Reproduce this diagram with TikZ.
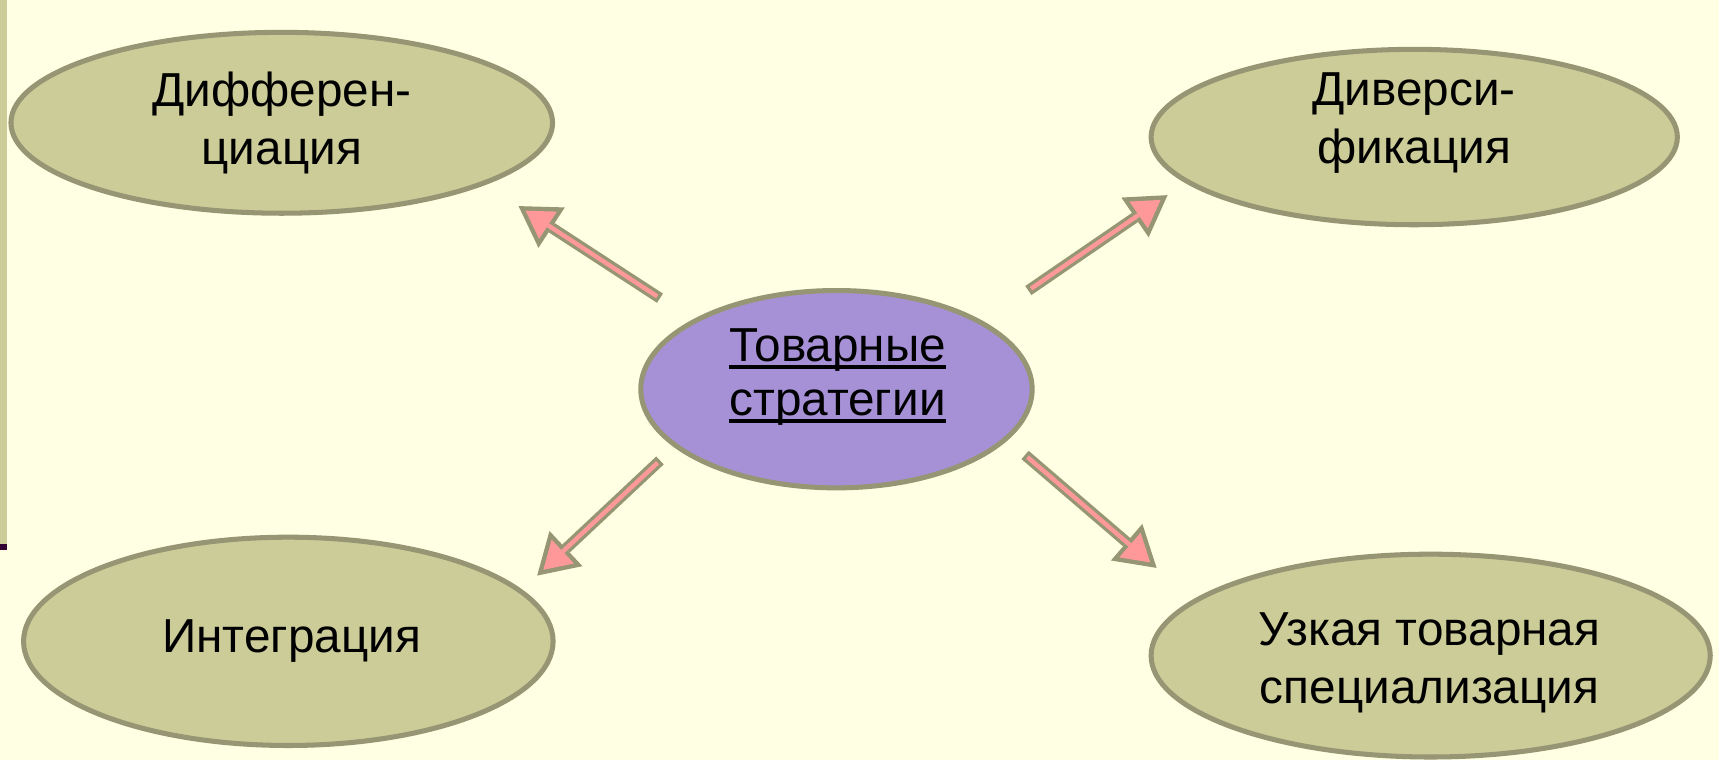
\documentclass[tikz,border=0pt]{standalone}
\usepackage{fontspec}
\setmainfont{Liberation Sans}
\usetikzlibrary{shapes.geometric,arrows.meta}
\definecolor{bgc}{HTML}{FFFFE3}
\definecolor{olivefill}{HTML}{CCCC99}
\definecolor{oliveline}{HTML}{969674}
\definecolor{violetfill}{HTML}{A791D6}
\definecolor{pinkc}{HTML}{FF9999}
\definecolor{darkmark}{HTML}{330033}
\newcommand\myul[1]{\leavevmode\setbox0=\hbox{#1}\rlap{\rule[-6.5pt]{\wd0}{3.5pt}}\box0}
\tikzset{
  oval/.style={ellipse, draw=oliveline, line width=4.6pt, fill=olivefill, inner sep=0pt},
  centeroval/.style={oval, fill=violetfill},
  lbl/.style={align=center, font=\fontsize{43.5}{53}\selectfont, inner sep=0pt},
  arrowout/.style={draw=oliveline, line width=10pt,
    -{Triangle[length=36pt,width=44pt,line width=0pt]}},
  arrowin/.style={draw=pinkc, line width=4pt, shorten <=3pt, shorten >=7.7pt,
    -{Triangle[length=24.3pt,width=29.7pt,line width=0pt]}}
}
\begin{document}
\begin{tikzpicture}[x=1pt,y=-1pt]
\useasboundingbox[fill=bgc] (0,0) rectangle (1568,693.3);
\fill[olivefill] (0,0) rectangle (6,496);
\fill[darkmark] (0,496) rectangle (6,502);
% ellipses
\node[oval, minimum width=494pt, minimum height=165pt] (dif) at (257,112) {};
\node[oval, minimum width=480pt, minimum height=160pt] (div) at (1290,125) {};
\node[centeroval, minimum width=357pt, minimum height=180pt] (tov) at (763,355) {};
\node[oval, minimum width=483pt, minimum height=190pt] (int) at (263,585) {};
\node[oval, minimum width=510pt, minimum height=185pt] (uzk) at (1305,598) {};
% texts
\node[lbl] (tdif) at (257,112) {Дифферен-\\циация};
\node[lbl] (tdiv) at (1290,112) {Диверси-\\фикация};
\node[lbl, font=\fontsize{43.5}{49}\selectfont] (ttov) at (764,344) {\myul{Товарные}\\\myul{стратегии}};
\node[lbl] (tint) at (266,585) {Интеграция};
\node[lbl] (tuzk) at (1304,605) {Узкая товарная\\специализация};
% arrow ends
\coordinate (s1) at (602,272); \coordinate (e1) at (473,188);
\coordinate (s2) at (938,265); \coordinate (e2) at (1065,178);
\coordinate (s3) at (602,420); \coordinate (e3) at (490,525);
\coordinate (s4) at (935,415); \coordinate (e4) at (1055,518);
\foreach \i in {1,2,3,4}{
  \draw[arrowout] (s\i) -- (e\i);
  \draw[arrowin] (s\i) -- (e\i);
}
\end{tikzpicture}
\end{document}
